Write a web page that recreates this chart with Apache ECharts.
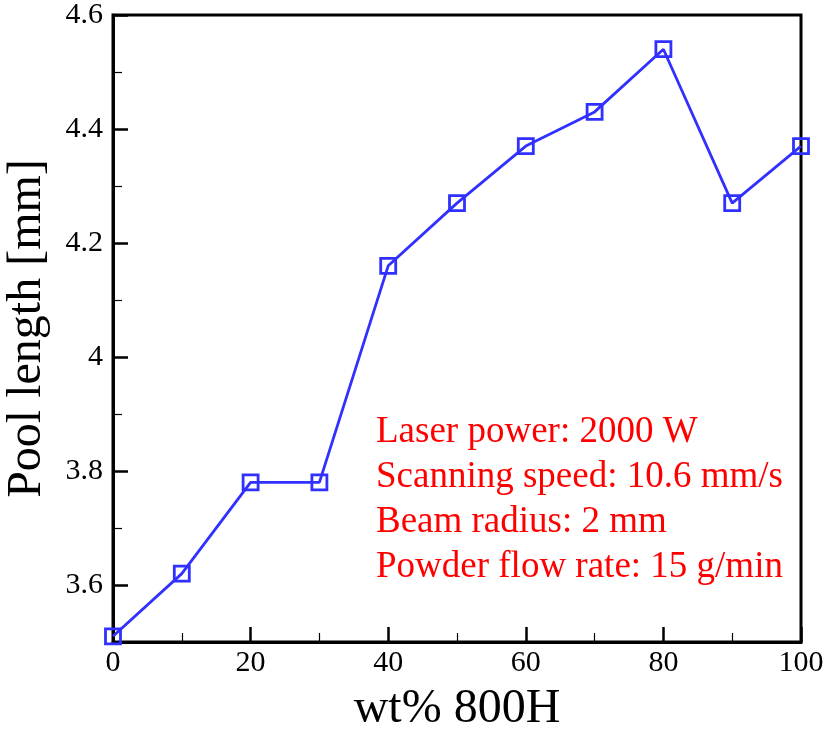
<!DOCTYPE html>
<html>
<head>
<meta charset="utf-8">
<title>Pool length vs wt% 800H</title>
<script src="https://cdn.jsdelivr.net/npm/echarts@6/dist/echarts.min.js"></script>
<style>
  html, body { margin: 0; padding: 0; background: #fff; }
  #chart { width: 827px; height: 731px; }
</style>
</head>
<body>
<div id="chart"></div>
<script>
// Composition of the 800H powder (wt%) and the resulting melt pool length (mm)
const wtPercent = [0, 10, 20, 30, 40, 50, 60, 70, 80, 90, 100];
const poolLength = [3.51, 3.62, 3.78, 3.78, 4.16, 4.27, 4.37, 4.43, 4.54, 4.27, 4.37];

// Tick positions
const xMajorTicks = [0, 20, 40, 60, 80, 100];
const xMinorTicks = [10, 30, 50, 70, 90];
const yMajorTicks = [3.6, 3.8, 4.0, 4.2, 4.4, 4.6];
const yMinorTicks = [3.5, 3.7, 3.9, 4.1, 4.3, 4.5];

// Process parameters printed inside the plot
const processNotes = [
  'Laser power: 2000 W',
  'Scanning speed: 10.6 mm/s',
  'Beam radius: 2 mm',
  'Powder flow rate: 15 g/min'
];

const FONT = 'Liberation Serif';
const BLUE = '#3030ff';

const chart = echarts.init(document.getElementById('chart'));

const noteTexts = processNotes.map((t, i) => ({
  type: 'text',
  left: 376,
  top: 414 + i * 45,
  z: 10,
  style: {
    text: t,
    fill: '#ff0000',
    font: '37px "' + FONT + '"'
  }
}));

chart.setOption({
  backgroundColor: '#ffffff',
  animation: false,
  grid: {
    left: 113, right: 26, top: 15, bottom: 89,
    outerBoundsMode: 'none',
    containLabel: false,
    show: true,
    borderColor: '#000',
    borderWidth: 3,
    backgroundColor: 'transparent'
  },
  xAxis: [
    {
      type: 'value', min: 0, max: 100,
      name: 'wt% 800H',
      nameLocation: 'middle',
      nameGap: 43,
      nameTextStyle: { fontFamily: FONT, fontSize: 48, color: '#000' },
      axisLine: { show: true, lineStyle: { color: '#000', width: 3 } },
      axisTick: { show: true, inside: true, length: 15, customValues: xMajorTicks, lineStyle: { color: '#000', width: 2.5 } },
      axisLabel: { show: true, customValues: xMajorTicks, margin: 6, fontFamily: FONT, fontSize: 30, color: '#000' },
      splitLine: { show: false }
    },
    {
      type: 'value', min: 0, max: 100, position: 'bottom',
      axisLine: { show: false },
      axisTick: { show: true, inside: true, length: 9, customValues: xMinorTicks, lineStyle: { color: '#000', width: 1.2 } },
      axisLabel: { show: false },
      splitLine: { show: false }
    }
  ],
  yAxis: [
    {
      type: 'value', min: 3.5, max: 4.6, position: 'left',
      name: 'Pool length [mm]',
      nameLocation: 'middle',
      nameGap: 62,
      nameTextStyle: { fontFamily: FONT, fontSize: 48, color: '#000' },
      axisLine: { show: true, lineStyle: { color: '#000', width: 3 } },
      axisTick: { show: true, inside: true, length: 15, customValues: yMajorTicks, lineStyle: { color: '#000', width: 2.5 } },
      axisLabel: { show: true, customValues: yMajorTicks, margin: 10, fontFamily: FONT, fontSize: 30, color: '#000' },
      splitLine: { show: false }
    },
    {
      type: 'value', min: 3.5, max: 4.6, position: 'left',
      axisLine: { show: false },
      axisTick: { show: true, inside: true, length: 9, customValues: yMinorTicks, lineStyle: { color: '#000', width: 1.2 } },
      axisLabel: { show: false },
      splitLine: { show: false }
    }
  ],
  series: [
    {
      type: 'line',
      xAxisIndex: 0,
      yAxisIndex: 0,
      data: wtPercent.map((x, i) => [x, poolLength[i]]),
      clip: false,
      symbol: 'rect',
      symbolSize: 15,
      lineStyle: { color: BLUE, width: 2.8 },
      itemStyle: { color: 'rgba(0,0,0,0)', borderColor: BLUE, borderWidth: 2.8 },
      z: 5
    }
  ],
  graphic: noteTexts
});
</script>
</body>
</html>
